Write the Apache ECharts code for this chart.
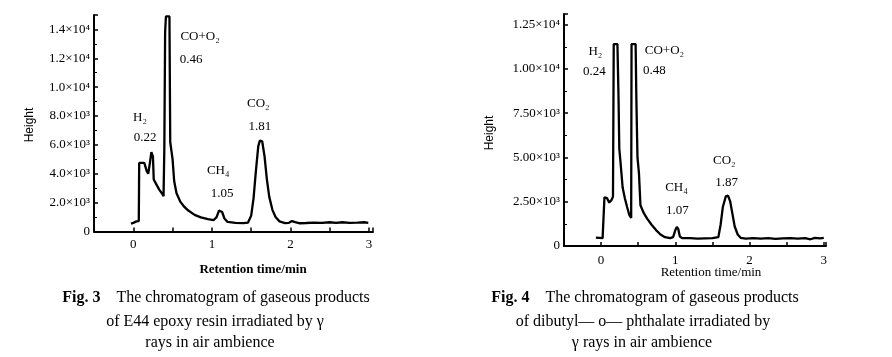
<!DOCTYPE html>
<html>
<head>
<meta charset="utf-8">
<script src="https://cdn.jsdelivr.net/npm/echarts@6/dist/echarts.min.js"></script>
<style>
html,body{margin:0;padding:0;background:#fff;}
#c{width:892px;height:357px;}
</style>
</head>
<body>
<div id="c"></div>
<script>
// ---------- data (Fig. 3, left) ----------
var leftTime = [-0.03,0.00,0.04,0.07,0.075,0.10,0.14,0.17,0.19,0.21,0.23,0.25,0.26,0.29,0.33,0.37,0.385,0.395,0.405,0.415,0.46,0.47,0.50,0.52,0.55,0.60,0.65,0.70,0.78,0.86,0.95,1.02,1.06,1.09,1.11,1.13,1.16,1.20,1.30,1.40,1.46,1.50,1.53,1.56,1.59,1.61,1.64,1.67,1.70,1.73,1.77,1.81,1.86,1.93,1.98,2.02,2.06,2.12,2.20,2.30,2.40,2.50,2.58,2.66,2.75,2.85,2.94,2.99];
var leftHeight = [550,600,700,720,4750,4800,4750,4200,4000,4700,5500,5200,3600,3300,2900,2600,2450,5800,13800,14900,14900,6200,5000,3500,2650,2050,1700,1450,1150,980,850,780,1000,1450,1580,1350,900,660,600,580,620,1100,2300,4200,5900,6300,6250,5200,3600,2400,1500,1000,700,580,600,720,650,570,590,620,600,640,600,640,600,620,640,600];

// ---------- data (Fig. 4, right) ----------
var rightTime = [-0.07,0.02,0.035,0.045,0.08,0.11,0.14,0.16,0.17,0.22,0.235,0.245,0.26,0.29,0.32,0.35,0.38,0.405,0.41,0.465,0.475,0.49,0.51,0.53,0.57,0.62,0.68,0.74,0.80,0.86,0.93,0.97,1.00,1.02,1.04,1.06,1.09,1.20,1.30,1.40,1.50,1.58,1.61,1.64,1.68,1.71,1.74,1.77,1.80,1.84,1.88,1.95,2.05,2.15,2.25,2.35,2.45,2.55,2.65,2.75,2.82,2.88,2.95,3.00];
var rightHeight = [470,440,440,2750,2700,2450,2600,2780,11400,11400,8300,5500,4800,3300,2700,2200,1750,1580,11400,11400,8300,5000,4100,2300,1900,1550,1200,900,650,500,440,500,900,1080,950,550,440,440,420,430,440,500,1200,2200,2800,2850,2500,1800,1100,650,460,420,440,420,440,400,430,440,420,450,380,460,430,460];

// ---------- tick labels ----------
var leftYTicks = [0,2000,4000,6000,8000,10000,12000,14000];
var leftYLabels = ['0','2.0×10³','4.0×10³','6.0×10³','8.0×10³','1.0×10⁴','1.2×10⁴','1.4×10⁴'];
var rightYTicks = [0,2500,5000,7500,10000,12500];
var rightYLabels = ['0','2.50×10³','5.00×10³','7.50×10³','1.00×10⁴','1.25×10⁴'];
var xTicks = [0,1,2,3];
var xLabels = ['0','1','2','3'];

// ---------- peak annotations [text, time, height] ----------
var leftNotes = [['H₂',0.085,7900],['0.22',0.15,6510],['CO+O₂',0.85,13510],['0.46',0.735,11920],['CH₄',1.08,4230],['1.05',1.13,2630],['CO₂',1.59,8870],['1.81',1.61,7280]];
var rightNotes = [['H₂',-0.077,10960],['0.24',-0.09,9870],['CO+O₂',0.853,11020],['0.48',0.718,9930],['CH₄',1.015,3310],['1.07',1.028,2000],['CO₂',1.66,4850],['1.87',1.69,3600]];

var SERIF = '"Liberation Serif","Times New Roman",serif';

function pairs(t, v){ return t.map(function(x,i){ return [x, v[i]]; }); }
function lookup(ticks, labels){
  return function(v){ for (var i=0;i<ticks.length;i++){ if (Math.abs(ticks[i]-v)<1e-6) return labels[i]; } return ''; };
}
function notes(arr){
  return arr.map(function(n){ return {coord:[n[1],n[2]], value:n[0], symbolSize:0,
    label:{show:true, position:'inside', formatter:n[0], color:'#000', fontFamily:SERIF, fontSize:13}}; });
}
function xAxis(idx){
  return {type:'value', gridIndex:idx, min:-0.5, max: idx===0?3.05:3.03, interval:0.5,
    axisLine:{show:true, onZero:false, lineStyle:{color:'#000', width:2}},
    axisTick:{show:true, inside:true, length:4, lineStyle:{color:'#000', width:1.5}},
    axisLabel:{formatter:lookup(xTicks,xLabels), color:'#000', fontFamily:SERIF, fontSize:13, margin: idx===0?7:8},
    splitLine:{show:false}};
}
function yAxis(idx, max, interval, ticks, labels){
  return {type:'value', gridIndex:idx, min:0, max:max, interval:interval,
    axisLine:{show:true, onZero:false, lineStyle:{color:'#000', width:2}},
    axisTick:{show:true, inside:true, length:4, lineStyle:{color:'#000', width:1.5}},
    minorTick:{show:true, splitNumber:2, length:3, lineStyle:{color:'#000', width:1}},
    axisLabel:{formatter:lookup(ticks,labels), color:'#000', fontFamily:SERIF, fontSize:13, margin:4},
    splitLine:{show:false}};
}

var chart = echarts.init(document.getElementById('c'), null, {renderer:'canvas'});
chart.setOption({
  backgroundColor:'#fff',
  animation:false,
  grid:[
    {left:94, top:15, width:279, height:216.5},
    {left:564, top:14, width:262, height:232}
  ],
  xAxis:[xAxis(0), xAxis(1)],
  yAxis:[yAxis(0,15000,2000,leftYTicks,leftYLabels), yAxis(1,13100,2500,rightYTicks,rightYLabels)],
  series:[
    {type:'line', xAxisIndex:0, yAxisIndex:0, data:pairs(leftTime,leftHeight), showSymbol:false,
      lineStyle:{color:'#000', width:2.3}, itemStyle:{color:'#000'}, clip:true,
      markPoint:{symbol:'circle', symbolSize:0, data:notes(leftNotes)}},
    {type:'line', xAxisIndex:1, yAxisIndex:1, data:pairs(rightTime,rightHeight), showSymbol:false,
      lineStyle:{color:'#000', width:2.3}, itemStyle:{color:'#000'}, clip:true,
      markPoint:{symbol:'circle', symbolSize:0, data:notes(rightNotes)}}
  ],
  graphic:[
    {type:'text', x:30, y:125, rotation:Math.PI/2, style:{text:'Height', fill:'#000', font:'12px "Liberation Sans", sans-serif', textAlign:'center', textVerticalAlign:'middle'}},
    {type:'text', x:490, y:133, rotation:Math.PI/2, style:{text:'Height', fill:'#000', font:'12px "Liberation Sans", sans-serif', textAlign:'center', textVerticalAlign:'middle'}},
    {type:'text', x:253, y:270, style:{text:'Retention time/min', fill:'#000', font:'bold 13px '+SERIF, textAlign:'center', textVerticalAlign:'middle'}},
    {type:'text', x:711, y:273, style:{text:'Retention time/min', fill:'#000', font:'13px '+SERIF, textAlign:'center', textVerticalAlign:'middle'}},
    {type:'text', x:216, y:298, style:{text:'{b|Fig. 3}    The chromatogram of gaseous products', textAlign:'center', textVerticalAlign:'middle', fill:'#000', font:'16px '+SERIF, rich:{b:{fontWeight:'bold', fontSize:16, fontFamily:SERIF, fill:'#000'}}}},
    {type:'text', x:215, y:322, style:{text:'of E44 epoxy resin irradiated by γ', textAlign:'center', textVerticalAlign:'middle', fill:'#000', font:'16px '+SERIF}},
    {type:'text', x:210, y:343, style:{text:'rays in air ambience', textAlign:'center', textVerticalAlign:'middle', fill:'#000', font:'16px '+SERIF}},
    {type:'text', x:645, y:298, style:{text:'{b|Fig. 4}    The chromatogram of gaseous products', textAlign:'center', textVerticalAlign:'middle', fill:'#000', font:'16px '+SERIF, rich:{b:{fontWeight:'bold', fontSize:16, fontFamily:SERIF, fill:'#000'}}}},
    {type:'text', x:643, y:322, style:{text:'of dibutyl— o— phthalate irradiated by', textAlign:'center', textVerticalAlign:'middle', fill:'#000', font:'16px '+SERIF}},
    {type:'text', x:642, y:343, style:{text:'γ rays in air ambience', textAlign:'center', textVerticalAlign:'middle', fill:'#000', font:'16px '+SERIF}}
  ]
});
</script>
</body>
</html>
